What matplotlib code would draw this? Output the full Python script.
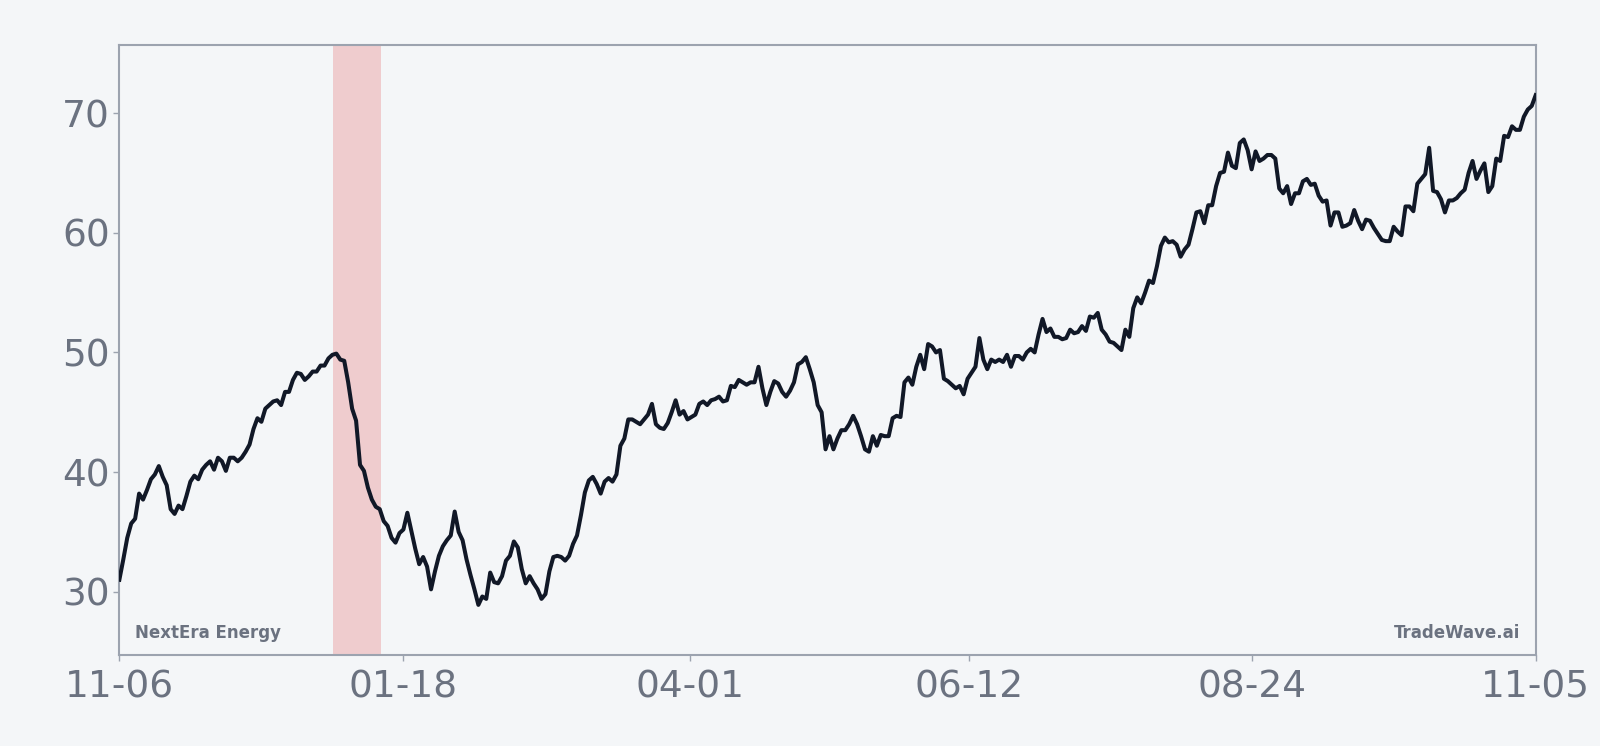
import numpy as np
import pandas as pd
import matplotlib
matplotlib.use('Agg')
import matplotlib.pyplot as plt
import matplotlib.dates as mdates

start_date = '2023-11-06'
end_date = '2024-11-05'
tick_dates = ['2023-11-06', '2024-01-18', '2024-04-01', '2024-06-12', '2024-08-24', '2024-11-05']
tick_labels = ['11-06', '01-18', '04-01', '06-12', '08-24', '11-05']
shade_start = '2023-12-31'
shade_end = '2024-01-12 12:00'
name = 'NextEra Energy'
brand = 'TradeWave.ai'

prices = [
    31.0, 32.7, 34.5, 35.7, 36.1, 38.2, 37.7, 38.5, 39.4, 39.8, 40.5, 39.6, 38.9, 36.9, 36.5, 37.2,
    36.9, 38.0, 39.2, 39.7, 39.4, 40.2, 40.6, 40.9, 40.2, 41.2, 40.9, 40.1, 41.2, 41.2, 40.9, 41.2,
    41.7, 42.3, 43.6, 44.5, 44.2, 45.3, 45.6, 45.9, 46.0, 45.6, 46.7, 46.7, 47.7, 48.3, 48.2, 47.7,
    48.0, 48.4, 48.4, 48.9, 48.9, 49.5, 49.8, 49.9, 49.4, 49.3, 47.5, 45.3, 44.3, 40.6, 40.1, 38.7,
    37.7, 37.1, 36.9, 35.9, 35.5, 34.5, 34.1, 34.9, 35.2, 36.6, 35.1, 33.6, 32.3, 32.9, 32.1, 30.2,
    31.7, 33.0, 33.8, 34.3, 34.7, 36.7, 35.0, 34.3, 32.7, 31.4, 30.2, 28.9, 29.6, 29.4, 31.6, 30.8,
    30.7, 31.3, 32.6, 33.0, 34.2, 33.7, 31.9, 30.7, 31.3, 30.7, 30.2, 29.4, 29.8, 31.7, 32.9, 33.0,
    32.9, 32.6, 33.0, 34.0, 34.7, 36.4, 38.3, 39.3, 39.6, 39.0, 38.2, 39.2, 39.5, 39.2, 39.8, 42.2,
    42.8, 44.4, 44.4, 44.2, 44.0, 44.4, 44.8, 45.7, 44.0, 43.7, 43.6, 44.1, 45.0, 46.0, 44.8, 45.1,
    44.4, 44.6, 44.8, 45.7, 45.9, 45.6, 46.0, 46.1, 46.3, 45.9, 46.0, 47.2, 47.1, 47.7, 47.5, 47.3,
    47.5, 47.5, 48.8, 47.0, 45.6, 46.7, 47.6, 47.4, 46.7, 46.3, 46.8, 47.5, 49.0, 49.2, 49.6, 48.6,
    47.5, 45.6, 45.0, 41.9, 43.0, 41.9, 42.8, 43.5, 43.5, 44.0, 44.7, 44.0, 43.0, 41.9, 41.7, 43.0,
    42.2, 43.1, 43.0, 43.0, 44.5, 44.7, 44.6, 47.5, 47.9, 47.3, 48.8, 49.8, 48.6, 50.7, 50.5, 50.0,
    50.2, 47.8, 47.6, 47.3, 47.0, 47.2, 46.5, 47.8, 48.3, 48.8, 51.2, 49.4, 48.6, 49.4, 49.2, 49.4,
    49.2, 49.8, 48.8, 49.7, 49.7, 49.4, 50.0, 50.3, 50.0, 51.5, 52.8, 51.7, 52.0, 51.3, 51.3, 51.1,
    51.2, 51.9, 51.6, 51.7, 52.2, 51.8, 53.0, 52.9, 53.3, 51.9, 51.5, 50.9, 50.8, 50.5, 50.2, 51.9,
    51.3, 53.7, 54.6, 54.1, 55.0, 56.0, 55.8, 57.2, 58.9, 59.6, 59.2, 59.3, 59.0, 58.0, 58.6, 59.0,
    60.3, 61.7, 61.8, 60.8, 62.3, 62.3, 63.9, 65.0, 65.1, 66.7, 65.6, 65.4, 67.5, 67.8, 66.9, 65.3,
    66.8, 66.0, 66.2, 66.5, 66.5, 66.2, 63.7, 63.3, 63.9, 62.4, 63.3, 63.3, 64.3, 64.5, 64.0, 64.1,
    63.1, 62.6, 62.7, 60.6, 61.7, 61.7, 60.5, 60.6, 60.8, 61.9, 61.0, 60.3, 61.1, 61.0, 60.4, 59.9,
    59.4, 59.3, 59.3, 60.5, 60.1, 59.8, 62.2, 62.2, 61.8, 64.1, 64.5, 64.9, 67.1, 63.5, 63.4, 62.8,
    61.7, 62.7, 62.7, 62.9, 63.3, 63.6, 65.0, 66.0, 64.5, 65.2, 65.8, 63.4, 63.9, 66.2, 66.0, 68.1,
    68.0, 68.9, 68.6, 68.6, 69.7, 70.3, 70.6, 71.5,
]

bg = '#f4f6f8'
text_color = '#6b7280'
spine_color = '#9ca3af'

dates = pd.date_range(start_date, end_date, periods=len(prices))

fig = plt.figure(figsize=(16, 7.46), dpi=100, facecolor=bg)
ax = fig.add_axes([0.0746, 0.1218, 0.8852, 0.818])
ax.set_facecolor(bg)

ax.axvspan(pd.Timestamp(shade_start), pd.Timestamp(shade_end), color='#dc2626', alpha=0.2, lw=0, zorder=1)
ax.plot(dates, prices, color='#111827', linewidth=2.9, zorder=3)

ax.set_xlim(pd.Timestamp(start_date), pd.Timestamp(end_date))
ax.set_ylim(24.7, 75.7)
ax.set_xticks([pd.Timestamp(d) for d in tick_dates])
ax.set_xticklabels(tick_labels)
ax.set_yticks([30, 40, 50, 60, 70])

ax.tick_params(axis='both', labelsize=27, colors=spine_color, labelcolor=text_color, length=4, width=1)
ax.tick_params(axis='x', pad=6)
ax.tick_params(axis='y', pad=3)
for side in ['top', 'right', 'bottom', 'left']:
    ax.spines[side].set_color(spine_color)
    ax.spines[side].set_linewidth(1.5)

ax.text(0.011, 0.022, name, transform=ax.transAxes, fontsize=12, fontweight='bold',
        color=text_color, ha='left', va='bottom')
ax.text(0.9894, 0.022, brand, transform=ax.transAxes, fontsize=12, fontweight='bold',
        color=text_color, ha='right', va='bottom')

fig.savefig('out.png', dpi=100, facecolor=bg)
plt.close(fig)
